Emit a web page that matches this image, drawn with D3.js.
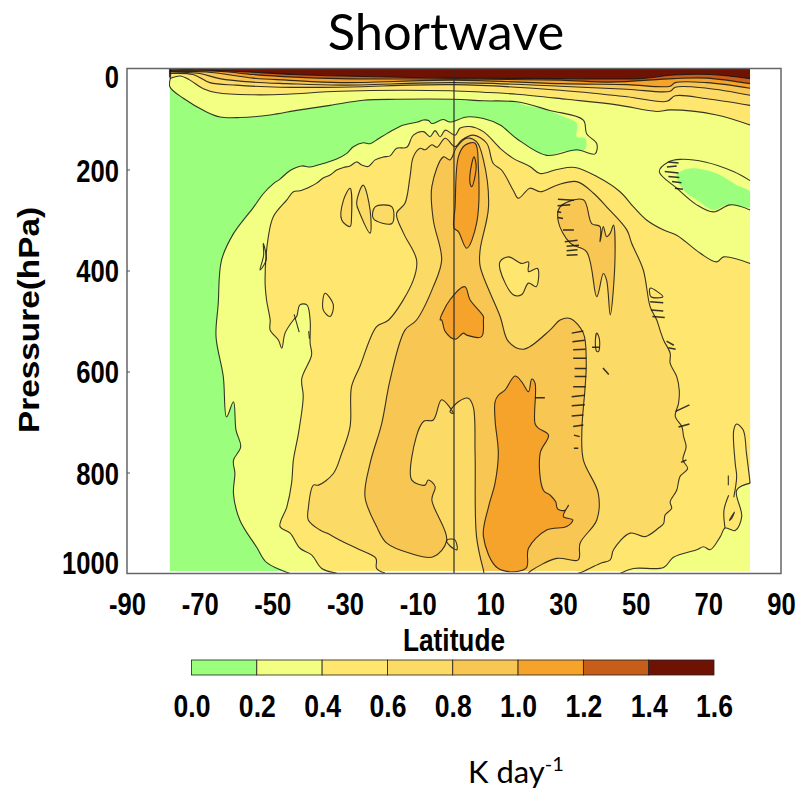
<!DOCTYPE html>
<html><head><meta charset="utf-8">
<script src="https://cdn.jsdelivr.net/npm/d3@7"></script>
<style>html,body{margin:0;background:#fff}svg{display:block}</style></head>
<body><svg id="c" width="804" height="793"></svg>
<script>
// Axes and colour levels
const latTicks=[-90,-70,-50,-30,-10,10,30,50,70,90];
const presTicks=[0,200,400,600,800,1000];
const levels=[0,0.2,0.4,0.6,0.8,1.0,1.2,1.4,1.6];
const levelColors=["#9BFF7D","#F3FF82","#FFE66E","#FBDA66","#F8C653","#F5A32A","#C65D18","#6E1204"];
const dataLat=[-78.2,81.5], dataPres=[0,995];
// Contours as [latitude, pressure hPa]
const c02A=[[-78,18],[-78.2,36],[-74.5,59],[-68.1,86],[-64.4,96],[-58.9,97],[-50.6,92],[-43.3,83],[-34.1,73],[-25,63],[-15.8,61],[-0.2,61],[8.1,64],[17.3,66]];
const c02Cap=[[26.4,83],[35.6,102],[36.5,129],[39.3,149],[38.8,169],[33.8,161]];
const c02FillCap=[[19.1,72],[25.5,82],[30.1,95],[33.8,109],[33.8,135],[36.1,138],[36.1,160],[30,164]];
const c02B=[[25.5,172],[17.3,139],[12.7,112],[8.1,99],[3.5,96],[-1.1,106],[-3,101],[-6.1,109],[-7,103],[-8.4,102],[-10,106],[-13.9,112],[-16,119],[-18.5,129],[-20.8,139],[-23.1,149],[-25,147],[-27.7,155],[-29.5,168],[-32.3,179],[-36.9,190],[-39.6,195],[-41.9,193],[-45.1,202],[-47.9,219],[-49.7,228],[-52.5,248],[-55.2,275],[-60.7,327],[-64,380],[-64.9,467],[-65.5,531],[-63.5,610],[-62.6,690],[-60.7,660],[-60,716],[-58.7,749],[-60.7,776],[-60.3,802],[-60.7,842],[-58.9,895],[-54.3,948],[-51.6,978],[-45.1,1000]];
const greenIslandLine=[[81.5,222],[76.9,204],[69.1,185],[62.2,180],[59,185],[56.5,204],[61.3,237],[66.8,270],[71.4,284],[76,270],[81.5,280]];
const greenIslandFill=[[61.3,211],[65,198],[72.3,208],[77.8,231],[81.5,244],[81.5,274],[75.1,270],[71.4,280],[66.8,260],[63.2,241]];
const c04Upper=[[-32.3,999],[-36.4,990],[-39.2,963],[-42.4,950],[-45.1,920],[-47.9,907],[-46,868],[-44.7,821],[-44.2,775],[-42.8,722],[-41.5,650],[-41.9,614],[-39.2,567],[-39.6,544],[-39.6,498],[-40.5,468],[-42.4,468],[-43.3,491],[-44.2,498],[-46.5,524],[-47.4,554],[-48.3,538],[-50.6,518],[-50.6,498],[-51.6,458],[-52,419],[-51.1,333],[-49.7,293],[-46,260],[-44.2,244],[-42.4,242],[-39.6,234],[-37.8,227],[-36,217],[-34.1,211],[-32.3,201],[-30.4,196],[-28.6,193],[-26.8,185],[-25.4,191],[-23.6,194],[-21.7,181],[-19.4,175],[-17.6,173],[-15.8,158],[-13,156],[-11.2,132],[-8.4,125],[-6.6,135],[-5.2,123],[-3.8,135],[-2.4,122],[0.3,132],[1.7,118],[4.4,115],[8.1,125],[12.7,158],[16.3,178],[20.9,194],[23.7,208],[28.3,200],[33.3,196],[39.3,214],[45.7,244],[49.4,274],[53,300],[57.7,320],[61.3,330],[67.8,366],[72.3,383],[74.2,373],[81.5,386]];
const c04Lower=[[81.5,821],[77.8,835],[79.2,887],[77.4,915],[74.6,910],[73.3,927],[70.5,953],[68.7,947],[66.8,953],[60.4,968],[57.7,988],[49.4,990],[45.7,1000]];
const c06=[[-19,999],[-21.3,990],[-21.5,970],[-25.9,953],[-31.4,934],[-35,920],[-36.9,914],[-40.1,894],[-40.1,871],[-38.7,825],[-37.3,825],[-33.2,802],[-30.9,762],[-28.6,709],[-28.2,630],[-25.9,590],[-21.3,511],[-18,498],[-11.2,419],[-10.3,379],[-13.9,326],[-15.8,287],[-13.5,267],[-12.1,214],[-11.2,175],[-9.3,158],[-8,161],[-6.1,151],[-4.7,156],[-2.4,138],[0.3,155],[2.1,142],[5.3,132],[9,148],[10.8,188],[13.1,201],[16.3,241],[17.7,257],[20.9,237],[23.7,244],[28.3,231],[33.8,224],[38.4,247],[42,274],[47.6,320],[48.9,346],[52.1,399],[54,472],[55.8,498],[56.7,518],[57.7,538],[59.5,564],[59.5,584],[61.3,610],[62,637],[61.8,663],[60.9,689],[62.7,709],[63.2,729],[63.9,749],[63,775],[64.3,792],[62.2,808],[61.3,835],[59.5,858],[59.9,871],[58.1,884],[57.7,901],[56.3,910],[52.6,927],[48.5,920],[43.9,953],[43,973],[40.2,980],[35.6,996],[34,1000]];
const c08=[[-1.1,181],[0.7,156],[3.5,138],[6.2,145],[8.1,181],[9.5,274],[7.2,359],[7.2,392],[12.7,491],[15,541],[19.1,556],[26.4,518],[29.2,498],[32,495],[35.6,524],[36.4,584],[36.1,630],[35.2,716],[35.6,775],[39.7,841],[39.3,894],[34.7,940],[34.2,973],[28.3,970],[20.9,996],[20,1002],[8.5,1002],[8.1,993],[6.2,927],[5.8,762],[5.3,670],[3.9,653],[1.2,660],[-1.1,680],[-0.2,683],[-3.4,656],[-5.7,696],[-8.4,699],[-11.6,769],[-11.6,815],[-8,825],[-7.1,815],[-5.2,828],[-6.1,854],[-2,934],[-5.7,967],[-12.1,960],[-18.5,940],[-21.3,907],[-24.5,848],[-23.1,782],[-19.9,703],[-17.6,617],[-13.5,518],[-10.3,498],[-5.7,432],[-3.4,379],[-5.7,300],[-6.1,234],[-2.9,175]];
const c10Tower=[[1.2,175],[3,152],[5.8,148],[6.7,194],[6.2,307],[3.5,356],[1.2,323],[0,316],[0.3,274]];
const c10Mid=[[-3.4,498],[-2.4,521],[0.3,536],[2.6,524],[3.5,528],[7.6,531],[8.1,498],[8.1,491],[4.4,458],[3,432],[-1.1,458],[-3.8,498]];
const c10Low=[[11.3,660],[12.2,647],[14,637],[16.8,609],[18.6,620],[20.5,640],[21.4,615],[22.3,623],[22.3,703],[23.2,712],[26,726],[23.7,762],[24.6,835],[26.5,845],[28,858],[28.5,872],[30.5,875],[31.5,865],[30.1,887],[32.7,894],[31,907],[25.5,914],[20.5,950],[19.8,990],[12.2,990],[8.1,927],[9.5,868],[11.3,821],[12.2,762],[11.3,696]];
const holeRight=[[12.7,382],[15,373],[18.6,386],[20.5,383],[20.5,402],[23,396],[22.6,432],[20.5,425],[18.6,448],[16.3,448],[12.7,399]];
const islandRight=[[35.6,260],[29.2,274],[28.7,303],[32,346],[36.5,363],[39.3,452],[41.1,406],[42,419],[43,488],[44.3,379],[43.9,310],[43,326],[42,333],[41.1,313],[40.2,343],[40.2,313],[37.9,307]];
const islandL1=[[-30.4,260],[-28.6,237],[-28.2,293],[-28.6,313],[-30.9,300]];
const islandL2=[[-26.8,267],[-25,231],[-23.1,280],[-23.1,326],[-25.9,287]];
const islandL3=[[-21.7,274],[-17.1,274],[-17.1,307],[-22.2,297]];
const loops=[
 [[4.4,227],[4.9,188],[5.5,175],[6.1,194],[4.9,234]],
 [[-35.5,445],[-33.2,468],[-34.1,491],[-36,478]],
 [[-52.5,346],[-51.7,379],[-53.4,399],[-52.4,370]],
 [[39.3,524],[40,535],[39.8,560],[39.3,560],[38.9,540]],
 [[54,435],[57.5,452],[54.2,452]],
 [[-2,934],[0.2,933],[0.8,953],[-1,946]],
 [[75.8,895],[77.2,878],[76.5,890]]
];
const tongues=[
 [[81.5,821],[80.5,762],[79.6,716],[77.8,704],[77,716],[77.4,782],[77.8,808],[77,849]],
 [[75.6,845],[74.3,875],[74.6,910]],
 [[75.5,806],[75.5,825]],
 [[-44,487],[-42.6,522]],
 [[-40,520],[-39.8,535]]
];
// Short hatched contour fragments: [lat1, pres1, lat2, pres2]
const hatchMarks=[
 [32.4,524,35.6,520],[32.6,541,36,538],[32.8,557,36.2,556],[32.8,574,36.4,574],[33.2,594,36.4,594],[33.2,610,36.4,610],[32.8,630,36.2,630],[32.4,650,36,647],[32.4,668,36,666],[32.4,688,35.6,686],[32.8,709,35.6,706],[33,726,34.6,729],[33,752,34.2,752],
 [30.5,343,34,340],[31,352,34.4,350],[31,361,34,359],[31,370,34,369],
 [59,185,61.8,187],[58.6,195,61.3,193],[58,204,61.8,207],[59,214,62,216],[60,224,62.6,226],[60.8,237,63,239],
 [54,462,57.6,464],[54.2,478,57.6,480],[54.6,491,58,493],
 [28.6,259,33,261],[28.5,272,32,270],[28.4,283,29.5,285],[28.6,295,30,297],[30,320,33,320],
 [22.3,652,25,652],[41,593,42.6,606],[61,679,64.8,666],[61.8,710,64.8,704],[59,553,61,556],[58.5,540,60.5,548],[62.5,780,64,775],[38,552,40,552]
];
// Upper-atmosphere contour lines
const b04=[[-78.2,20],[-75.4,15],[-72.7,23],[-69,40],[-65.2,48],[-55.3,52],[-46,51],[-31.4,45],[-1.1,44],[8.1,47],[17.3,51],[31,61],[44.8,72],[55.8,85],[59.5,82],[72.3,92],[81.5,112]];
const b06=[[-78.2,10],[-71.8,12],[-67.2,28],[-59.9,33],[-47.9,37],[-31.4,37],[0,32],[29.2,43],[47.6,56],[58.6,65],[60.9,54],[69.6,60],[81.5,73]];
const b08=[[-78.2,7],[-70,10],[-64.5,20],[-55.3,27],[-46,30],[-31.4,33],[0,28],[29.2,35],[47.6,41],[59.5,45],[60.9,37],[69.6,39],[81.5,53]];
const b10=[[-78.2,6],[-68.1,7],[-55.3,19],[-46,23],[-31.4,28],[0,23],[29.2,30],[47.6,32],[59.5,35],[60.9,28],[69.6,28],[81.5,39]];
const b12=[[-78.2,4],[-64,6],[-55.3,12],[-44,17],[-31.4,20],[0,21],[29.2,23],[43,27],[60.4,20],[69.6,19],[81.5,30]];
const b14=[[-78.2,1],[-69,3],[-59,6],[-44,12],[-31.4,15],[0,19],[29.2,20],[51.2,20],[60.4,13],[70.5,12],[81.5,20]];

const svg=d3.select("#c");
const x=d3.scaleLinear([-90,90],[127,781]);
const y=d3.scaleLinear([0,1000],[68.5,573.5]);
const lv=d3.scaleLinear([0,1.6],[191.5,714]);
const col=d3.scaleThreshold(levels.slice(1,-1),levelColors);
const path=d3.line().x(d=>x(d[0])).y(d=>y(d[1])).curve(d3.curveCatmullRom.alpha(.5));
const ring=d3.line().x(d=>x(d[0])).y(d=>y(d[1])).curve(d3.curveCatmullRomClosed.alpha(.5));
const bandArea=d3.area().x(d=>x(d[0])).y0(y(0)).y1(d=>y(d[1])).curve(d3.curveCatmullRom.alpha(.5));
const INK="#141414";

svg.append("clipPath").attr("id","data").append("rect")
 .attr("x",x(dataLat[0])).attr("y",y(dataPres[0]))
 .attr("width",x(dataLat[1])-x(dataLat[0])).attr("height",y(dataPres[1])-y(dataPres[0]));
svg.append("clipPath").attr("id","lineClip").append("rect")
 .attr("x",x(dataLat[0])-1).attr("y",y(0))
 .attr("width",x(dataLat[1])-x(dataLat[0])+2).attr("height",y(1000)-y(0));
const fills=svg.append("g").attr("clip-path","url(#data)");
fills.append("rect").attr("x",x(dataLat[0])).attr("y",y(0)).attr("width",x(dataLat[1])-x(dataLat[0])).attr("height",y(1000)-y(0)).attr("fill",col(0.3));
const greenMain=[...c02A,...c02FillCap,...c02B,[-78.2,1000],[-90,1000],[-90,18]];
fills.append("path").attr("d",path(greenMain)+"Z").attr("fill",col(0.1));
fills.append("path").attr("d",ring(greenIslandFill)).attr("fill",col(0.1));
fills.append("path").attr("d",path([...c04Upper,[90,386],[90,821],...c04Lower])+"Z").attr("fill",col(0.5));
fills.append("path").attr("d",path(c06)+"Z").attr("fill",col(0.7));
[[c08,0.9],[c10Tower,1.1],[c10Mid,1.1],[c10Low,1.1],[holeRight,0.5],[islandRight,0.9],[islandL1,0.7],[islandL2,0.7],[islandL3,0.7]]
 .forEach(([d,v])=>fills.append("path").attr("d",ring(d)).attr("fill",col(v)));
[[b04,0.5],[b06,0.7],[b08,0.9],[b10,1.1],[b12,1.3],[b14,1.5]].forEach(([d,v])=>{
 fills.append("path").attr("d",bandArea(d)).attr("fill",col(v));
});

const lines=svg.append("g").attr("clip-path","url(#lineClip)").attr("fill","none").attr("stroke",INK).attr("stroke-width",1.1).attr("stroke-opacity",.85).attr("stroke-linejoin","round");
[[...c02A,...c02Cap,...c02B],greenIslandLine,c04Upper,c04Lower,c06,b04,b06,b08,b10,b12,b14,...tongues]
 .forEach(d=>lines.append("path").attr("d",path(d)));
[c08,holeRight,islandRight,islandL1,islandL2,islandL3,c10Low,c10Tower,c10Mid,...loops]
 .forEach(d=>lines.append("path").attr("d",ring(d)));
lines.selectAll("line.h").data(hatchMarks).join("line").attr("x1",d=>x(d[0])).attr("y1",d=>y(d[1])).attr("x2",d=>x(d[2])).attr("y2",d=>y(d[3])).attr("stroke-width",1.5);
lines.append("path").attr("d",path([[dataLat[0],18],[dataLat[0],1]])).attr("stroke-width",2.5);

// Equator line and frame
svg.append("line").attr("x1",x(0)).attr("x2",x(0)).attr("y1",y(0)).attr("y2",y(1000)).attr("stroke","#2a2a2a").attr("stroke-width",1.4).attr("stroke-opacity",.85);
svg.append("rect").attr("x",x(-90)).attr("y",y(0)).attr("width",x(90)-x(-90)).attr("height",y(1000)-y(0)).attr("fill","none").attr("stroke","#666").attr("stroke-width",1.5);

const boldFont="'Liberation Sans',Arial,sans-serif";
function styleAxis(g){
 g.select(".domain").remove();
 g.selectAll("text").attr("font-family",boldFont).attr("font-weight",700).attr("font-size",32).attr("fill","#000");
}
// X axis
const xa=svg.append("g").attr("transform","translate(0,615)").call(d3.axisBottom(x).tickValues(latTicks).tickSize(0).tickFormat(d=>String(d)));
styleAxis(xa);
xa.selectAll("text").attr("y",0).attr("dy",0).attr("text-anchor","middle").attr("transform","scale(.8,1)");
// Y axis
const yOff={0:19,200:12,400:11,600:11,800:11.5,1000:0};
const ya=svg.append("g").attr("transform",`translate(${x(-90)},0)`).call(d3.axisLeft(y).tickValues(presTicks).tickSize(-3).tickFormat(d=>String(d)));
styleAxis(ya);
ya.selectAll("line").attr("stroke","#555").filter(d=>d===0||d===1000).remove();
ya.selectAll("text").attr("x",-10).attr("dy",0).attr("y",d=>yOff[d]).attr("text-anchor","end").attr("transform","scale(.8,1)");

svg.append("text").text("Latitude").attr("font-family",boldFont).attr("font-weight",700).attr("font-size",32).attr("text-anchor","middle")
 .attr("transform",`translate(454,651) scale(.82,1)`);
svg.append("text").text("Pressure(hPa)").attr("font-family",boldFont).attr("font-weight",700).attr("font-size",29).attr("text-anchor","middle")
 .attr("transform",`translate(39,320) rotate(-90) scale(1.15,1)`);
svg.append("text").text("Shortwave").attr("font-family","Lato,sans-serif").attr("font-size",50.6).attr("text-anchor","middle").attr("x",446).attr("y",50).attr("fill","#000");

// Colour bar
const bar=svg.append("g");
bar.selectAll("rect").data(levelColors).join("rect")
 .attr("x",(d,i)=>lv(levels[i])).attr("width",(d,i)=>lv(levels[i+1])-lv(levels[i])).attr("y",660).attr("height",15)
 .attr("fill",d=>d).attr("stroke","#222").attr("stroke-width",.8);
const la=svg.append("g").attr("transform","translate(0,717)").call(d3.axisBottom(lv).tickValues(levels).tickSize(0).tickFormat(d3.format(".1f")));
styleAxis(la);
la.selectAll("text").attr("y",0).attr("dy",0).attr("text-anchor","middle").attr("transform","scale(.83,1)");

const unit=svg.append("text").attr("font-family","Lato,sans-serif").attr("font-size",31).attr("x",468).attr("y",783).attr("fill","#000");
unit.append("tspan").text("K day");
unit.append("tspan").text("-1").attr("font-size",20).attr("dy",-12);
</script></body></html>
